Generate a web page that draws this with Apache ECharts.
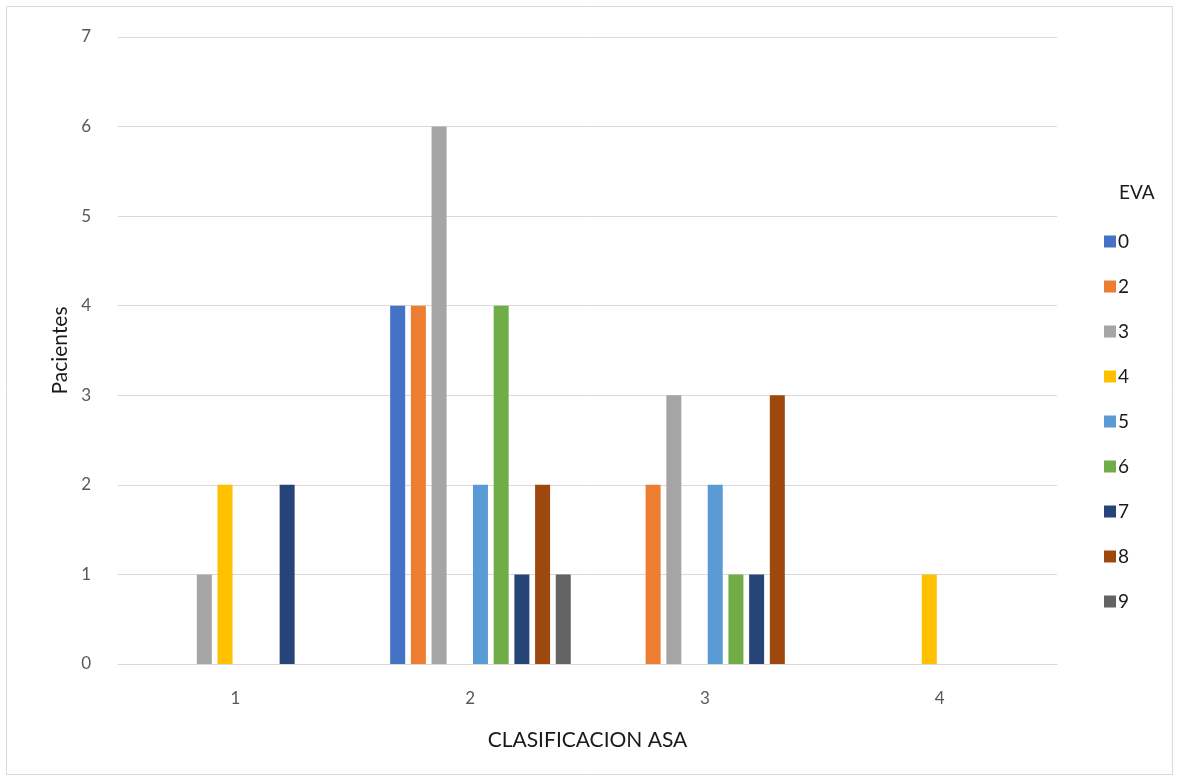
<!DOCTYPE html>
<html>
<head>
<meta charset="utf-8">
<script src="https://cdn.jsdelivr.net/npm/echarts@6/dist/echarts.min.js"></script>
<style>
  html, body { margin: 0; padding: 0; background: #ffffff; }
  #chart { width: 1179px; height: 780px; }
</style>
</head>
<body>
<div id="chart"></div>
<script>
// ASA classes on the x axis
const categories = ['1', '2', '3', '4'];
// EVA pain scores (one series each)
const evaNames = ['0', '2', '3', '4', '5', '6', '7', '8', '9'];
// Patients per ASA class for each EVA score
const eva0 = [0, 4, 0, 0];
const eva2 = [0, 4, 2, 0];
const eva3 = [1, 6, 3, 0];
const eva4 = [2, 0, 0, 1];
const eva5 = [0, 2, 2, 0];
const eva6 = [0, 4, 1, 0];
const eva7 = [2, 1, 1, 0];
const eva8 = [0, 2, 3, 0];
const eva9 = [0, 1, 0, 0];
const evaValues = [eva0, eva2, eva3, eva4, eva5, eva6, eva7, eva8, eva9];
const yTicks = [0, 1, 2, 3, 4, 5, 6, 7];

const colors = ['#4472C4', '#ED7D31', '#A5A5A5', '#FFC000', '#5B9BD5',
                '#70AD47', '#264478', '#9E480E', '#636363'];
const FONT = 'Lato, "Open Sans", sans-serif';

const chart = echarts.init(document.getElementById('chart'), null, { renderer: 'canvas' });

const barStyle = { barWidth: 15, barGap: '38%' };

// leading empty slot in each group (a blank series without legend entry)
const series = [{
  name: '',
  type: 'bar',
  data: categories.map(() => null),
  ...barStyle,
  itemStyle: { color: 'transparent' },
  silent: true
}].concat(evaNames.map((n, i) => ({
  name: n,
  type: 'bar',
  data: evaValues[i],
  ...barStyle,
  itemStyle: { color: colors[i] }
})));

chart.setOption({
  animation: false,
  backgroundColor: '#ffffff',
  textStyle: { fontFamily: FONT },
  grid: { left: 118, right: 122, top: 37, bottom: 116, containLabel: false },
  xAxis: {
    type: 'category',
    data: categories,
    axisLine: { show: true, lineStyle: { color: '#d9d9d9', width: 1 } },
    axisTick: { show: false },
    axisLabel: { color: '#595959', fontSize: 17, margin: 26, fontFamily: FONT },
    name: 'CLASIFICACION ASA',
    nameLocation: 'middle',
    nameGap: 66,
    nameTextStyle: { color: '#1a1a1a', fontSize: 21, fontFamily: FONT }
  },
  yAxis: {
    type: 'value',
    min: yTicks[0],
    max: yTicks[yTicks.length - 1],
    interval: 1,
    splitLine: { lineStyle: { color: '#d9d9d9', width: 1 } },
    axisLine: { show: false },
    axisTick: { show: false },
    axisLabel: { color: '#595959', fontSize: 17, margin: 27, fontFamily: FONT },
    name: 'Pacientes',
    nameLocation: 'middle',
    nameGap: 46,
    nameTextStyle: { color: '#1a1a1a', fontSize: 21, fontFamily: FONT }
  },
  legend: {
    orient: 'vertical',
    left: 1099,
    top: 227,
    data: evaNames,
    icon: 'rect',
    itemWidth: 12,
    itemHeight: 12,
    itemGap: 26,
    textStyle: { color: '#1a1a1a', fontSize: 19, fontFamily: FONT, padding: [0, 0, 0, -3] },
    selectedMode: false
  },
  graphic: [
    {
      type: 'text',
      left: 1119,
      top: 183,
      style: { text: 'EVA', fill: '#1a1a1a', font: '19px ' + FONT }
    },
    {
      type: 'rect',
      silent: true,
      shape: { x: 6.5, y: 6.5, width: 1166, height: 768 },
      style: { fill: 'none', stroke: '#d9d9d9', lineWidth: 1 }
    }
  ],
  series: series
});
</script>
</body>
</html>
